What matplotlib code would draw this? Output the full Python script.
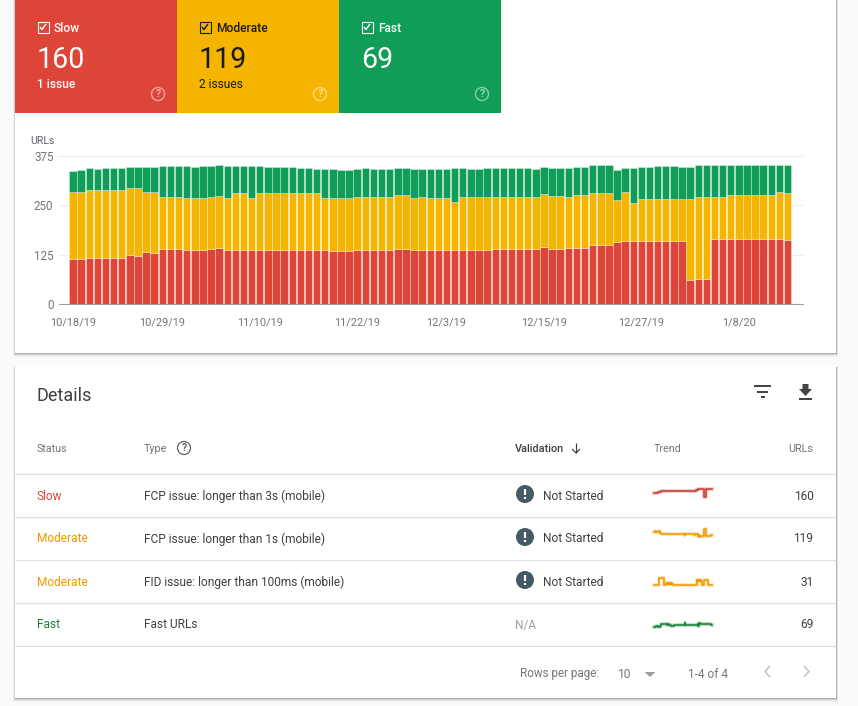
import matplotlib
matplotlib.use("Agg")
import matplotlib.pyplot as plt
from matplotlib.patches import Rectangle, Circle, Polygon

W, H = 858, 706
plt.rcParams['font.family'] = ['Roboto', 'DejaVu Sans']

slow = [114,114,116,116,116,116,116,123,121,132,130,139,139,139,137,137,137,139,141,137,
        137,137,137,137,137,137,137,137,137,137,137,137,135,135,135,137,137,137,137,137,
        139,139,137,137,137,137,137,137,137,137,137,137,139,139,139,139,139,139,144,140,
        140,142,142,142,149,149,149,158,160,160,160,160,160,160,160,160,60,64,64,165,
        165,165,165,165,165,165,165,165,162]
moderate = [171,171,174,172,173,173,173,172,174,151,153,133,133,133,132,132,132,133,133,132,
            143,143,132,143,143,143,143,144,144,144,144,132,134,134,134,135,135,135,135,135,
            136,136,132,135,132,132,132,121,135,135,135,135,133,133,133,133,133,133,135,134,
            134,129,134,134,132,132,132,106,123,96,107,107,107,107,107,105,205,208,208,107,
            107,112,112,112,112,112,112,118,119]
fast = [51,54,54,54,56,56,56,53,53,65,65,78,78,78,81,79,81,78,79,81,
        70,70,81,70,68,68,68,65,64,64,61,73,73,70,70,70,73,70,70,70,
        70,70,73,70,73,73,73,87,73,70,70,73,73,73,73,73,73,70,69,71,
        71,74,71,71,70,70,70,76,62,89,79,79,82,82,82,81,81,81,81,81,
        81,76,76,76,76,76,76,68,70]
fid = [31,31,31,31,31,31,31,31,48,48,48,48,48,48,48,34,31,31,31,35,
       33,35,33,35,33,35,33,35,33,31,31,31,31,31,31,31,31,31,31,31,
       31,31,31,31,31,31,31,31,31,31,31,31,31,31,31,31,31,31,31,31,
       31,31,31,31,31,43,40,43,40,43,40,43,40,31,31,31,43,43,43,43,
       43,43,31,31,31,31,31,31,31]

y_ticks = [0, 125, 250, 375]
x_tick_days = [0, 11, 23, 35, 46, 58, 70, 82]
x_tick_labels = ['10/18/19','10/29/19','11/10/19','11/22/19','12/3/19','12/15/19','12/27/19','1/8/20']

cards = [('Slow', '160', '1 issue', '#DD4539', 'white'),
         ('Moderate', '119', '2 issues', '#F4B400', '#1a1a1a'),
         ('Fast', '69', '', '#0F9D58', 'white')]
rows = [('Slow', 'FCP issue: longer than 3s (mobile)', 'Not Started', 160),
        ('Moderate', 'FCP issue: longer than 1s (mobile)', 'Not Started', 119),
        ('Moderate', 'FID issue: longer than 100ms (mobile)', 'Not Started', 31),
        ('Fast', 'Fast URLs', 'N/A', 69)]
spark_series = [slow, moderate, fid, fast]
spark_colors = ['#C5392B', '#F29900', '#F29900', '#188038']
spark_boxes = [(489, 497), (529, 537), (578, 585), (623, 627)]

RED, YEL, GRN = '#DD4539', '#F4B400', '#0F9D58'
DARK, GRAY = '#3C4043', '#757575'

fig = plt.figure(figsize=(W/100, H/100), dpi=100, facecolor='#FAFAFA')

def px_axes(x0, y0, x1, y1, **kw):
    return fig.add_axes([x0/W, 1-y1/H, (x1-x0)/W, (y1-y0)/H], **kw)

bg = px_axes(0, 0, W, H)
bg.set_xlim(0, W); bg.set_ylim(H, 0); bg.axis('off')

def T(x, y, s, size=12, color=DARK, ha='left', weight='normal'):
    bg.text(x, y-1, s, fontsize=size*0.72, color=color, ha=ha, va='center_baseline', fontweight=weight)

def L(xs, ys, color=DARK, lw=1.0, **kw):
    bg.plot(xs, ys, color=color, lw=lw*0.72, solid_capstyle='butt', **kw)

# card panels with soft shadow
for (y0, y1) in [(-5, 353), (367, 698)]:
    for k, a in zip((4, 3, 2, 1), (0.03, 0.05, 0.09, 0.16)):
        bg.add_patch(Rectangle((15-k/2, y0), 821+k, y1-y0+k, fc='black', alpha=a, ec='none'))
    bg.add_patch(Rectangle((15, y0), 821, y1-y0, fc='white', ec='none'))

# summary tiles
for i, (name, num, sub, col, tc) in enumerate(cards):
    x0 = 15 + 162*i
    bg.add_patch(Rectangle((x0, 0), 162, 113, fc=col, ec='none'))
    bg.add_patch(Rectangle((x0+22.5, 21.5), 11, 11, fc='none', ec=tc, lw=0.8))
    L([x0+25, x0+27, x0+31], [27, 29.5, 24], color=tc, lw=1.4)
    T(x0+39, 27.5, name, 12, tc, weight='medium')
    T(x0+22, 58, num, 28.5, tc)
    if sub:
        T(x0+22, 84.5, sub, 12, tc, weight='medium' if tc == 'white' else 'normal')
    bg.add_patch(Circle((x0+143, 94), 6.5, fc='none', ec='white', lw=1.0, alpha=0.5))
    bg.text(x0+143, 94.3, '?', fontsize=7.5, color='white', alpha=0.55, ha='center', va='center', fontweight='bold')

# stacked bars
ax = px_axes(59, 156, 803, 304)
ax.patch.set_alpha(0)
days = list(range(len(slow)))
stack1 = [s + m for s, m in zip(slow, moderate)]
edge = (1, 1, 1, 0.45)
ax.bar(days, slow, width=0.92, color=RED, edgecolor=edge, linewidth=0.5, zorder=3)
ax.bar(days, moderate, width=0.92, bottom=slow, color=YEL, edgecolor=edge, linewidth=0.5, zorder=3)
ax.bar(days, fast, width=0.92, bottom=stack1, color=GRN, edgecolor=edge, linewidth=0.5, zorder=3)
ax.set_xlim((59-73.0)/8.12, (803-73.0)/8.12)
ax.set_ylim(0, 375)
ax.set_yticks(y_ticks)
ax.set_yticklabels([str(v) for v in y_ticks], fontsize=8.4, color=GRAY)
ax.set_xticks(x_tick_days)
ax.set_xticklabels(x_tick_labels, fontsize=7.9, color=GRAY)
ax.tick_params(axis='both', length=0)
ax.tick_params(axis='x', pad=9.5)
ax.tick_params(axis='y', pad=4)
ax.grid(axis='y', color='#EDEDED', lw=0.8, zorder=0)
ax.set_axisbelow(True)
for s in ('top', 'right', 'left'):
    ax.spines[s].set_visible(False)
ax.spines['bottom'].set_color('#9E9E9E')
ax.spines['bottom'].set_linewidth(0.8)
T(30, 140.5, 'URLs', 10.5, '#5f6368')

# details header
T(37, 395, 'Details', 18, '#3C4043')
for yy, (a, b) in zip((386, 391.5, 397), ((754, 771), (757, 768), (760.5, 764.5))):
    L([a, b], [yy, yy], color='#444', lw=2)
bg.add_patch(Polygon([[802.5, 384], [808.5, 384], [808.5, 389], [812, 389], [805.5, 396], [799, 389], [802.5, 389]], fc='#444', ec='none'))
L([799, 812], [398.5, 398.5], color='#444', lw=2)

T(37, 449, 'Status', 10.7, GRAY)
T(144, 449, 'Type', 10.7, GRAY)
bg.add_patch(Circle((184, 448), 6.5, fc='none', ec='#616161', lw=0.9))
bg.text(184, 448.3, '?', fontsize=7.5, color='#616161', ha='center', va='center', fontweight='bold')
T(515, 449, 'Validation', 10.9, '#3C4043', weight='medium')
L([576, 576], [443, 453], color='#3C4043', lw=1.2)
L([572, 576, 580], [449, 453, 449], color='#3C4043', lw=1.2)
T(654, 449, 'Trend', 10.7, GRAY)
T(813, 449, 'URLs', 10.7, GRAY, ha='right')

# table rows
for yy in (474, 517, 560, 603, 646):
    L([15, 836], [yy, yy], color='#E0E0E0', lw=1.2)
status_colors = {'Slow': '#DD4B39', 'Moderate': '#F29900', 'Fast': '#188038'}
for i, (st, typ, val, n) in enumerate(rows):
    yc = 495.5 + 43*i
    T(36.5, yc, st, 11.85, status_colors[st])
    T(144, yc, typ, 11.85, '#3C4043')
    if val == 'N/A':
        T(515, yc, val, 11.85, '#9E9E9E')
    else:
        bg.add_patch(Circle((525, yc-1.5), 9, fc='#455A64', ec='none'))
        L([525, 525], [yc-6.5, yc-1], color='white', lw=2.2)
        L([525, 525], [yc+1, yc+3], color='white', lw=2.2)
        T(543, yc, val, 11.85, '#3C4043')
    T(813.5, yc, str(n), 11.85, '#3C4043', ha='right')

# trend sparklines
for series, col, (y0, y1) in zip(spark_series, spark_colors, spark_boxes):
    sp = px_axes(654, y0, 712, y1)
    sp.axis('off')
    sp.plot(days, series, color=col, lw=2.6, alpha=0.3, drawstyle='steps-mid', clip_on=False)
    sp.plot(days, series, color=col, lw=1.1, drawstyle='steps-mid', clip_on=False)
    sp.set_xlim(0, len(series)-1)
    sp.set_ylim(min(series), max(series))

# footer
T(520.5, 673.5, 'Rows per page:', 11.6, GRAY)
T(618, 673.5, '10', 12, GRAY)
bg.add_patch(Polygon([[644.5, 672], [655.5, 672], [650, 677]], fc='#9E9E9E', ec='none'))
T(688, 673.5, '1-4 of 4', 11.85, GRAY)
L([770, 765, 770], [666, 671.5, 677], color='#BDBDBD', lw=1.4)
L([804, 809, 804], [666, 671.5, 677], color='#BDBDBD', lw=1.4)

fig.savefig('out.png', dpi=100, facecolor=fig.get_facecolor())
